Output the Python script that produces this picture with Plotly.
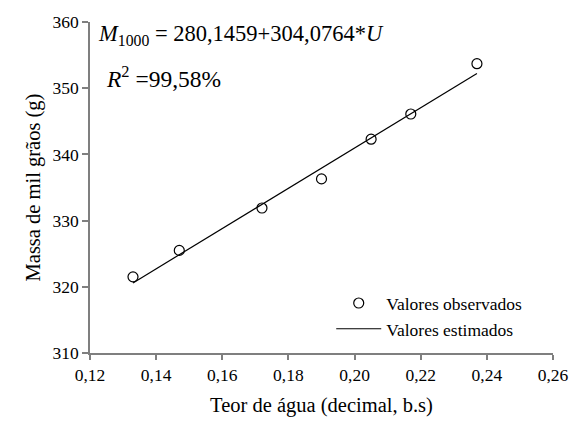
import plotly.graph_objects as go

obs_x = [0.133, 0.147, 0.172, 0.190, 0.205, 0.217, 0.237]
obs_y = [321.5, 325.5, 331.9, 336.3, 342.3, 346.1, 353.7]

# Estimated line (M1000 = 280.1459 + 304.0764*U) endpoints
est_x = [0.133, 0.237]
est_y = [320.59, 352.21]

x_ticks = [0.12, 0.14, 0.16, 0.18, 0.20, 0.22, 0.24, 0.26]
y_ticks = [310, 320, 330, 340, 350, 360]

FONT = "Liberation Serif"
AXIS_GRAY = "#7f7f7f"

fig = go.Figure()
fig.add_trace(go.Scatter(
    x=obs_x, y=obs_y, mode="markers", name="Valores observados",
    marker=dict(symbol="circle-open", size=10, color="black", line=dict(width=1.2, color="black")),
))
fig.add_trace(go.Scatter(
    x=est_x, y=est_y, mode="lines", name="Valores estimados",
    line=dict(color="black", width=1.2),
))

fig.update_layout(
    width=581, height=426,
    margin=dict(l=90, r=22, t=17, b=73),
    paper_bgcolor="white", plot_bgcolor="white",
    separators=", ",
    font=dict(family=FONT, size=17, color="black"),
    showlegend=True,
    legend=dict(
        x=0.521, y=0.205, xanchor="left", yanchor="top",
        bgcolor="rgba(0,0,0,0)", font=dict(family=FONT, size=17.5, color="black"),
        itemwidth=45, tracegroupgap=0,
    ),
    annotations=[
        dict(
            text="<i>M</i><sub>1000</sub> = 280,1459+304,0764*<i>U</i>",
            x=0.012, y=0.96, xref="paper", yref="paper", xanchor="left", yanchor="middle",
            showarrow=False, font=dict(family=FONT, size=22.5, color="black"),
        ),
        dict(
            text="<i>R</i><sup>2</sup> =99,58%",
            x=0.03, y=0.835, xref="paper", yref="paper", xanchor="left", yanchor="middle",
            showarrow=False, font=dict(family=FONT, size=23.5, color="black"),
        ),
    ],
)

fig.update_xaxes(
    range=[0.12, 0.26], tickvals=x_ticks, tickformat=".2f",
    showgrid=False, zeroline=False, showline=True, linecolor=AXIS_GRAY, linewidth=1.5,
    ticks="outside", ticklen=5, tickwidth=1.5, tickcolor=AXIS_GRAY,
    tickfont=dict(family=FONT, size=17.5, color="black"),
    title=dict(text="Teor de água (decimal, b.s)", font=dict(family=FONT, size=20.5, color="black"), standoff=14),
)
fig.update_yaxes(
    range=[310, 360], tickvals=y_ticks, ticksuffix="\u00a0",
    showgrid=False, zeroline=False, showline=True, linecolor=AXIS_GRAY, linewidth=1.5,
    ticks="outside", ticklen=6, tickwidth=1.5, tickcolor=AXIS_GRAY,
    tickfont=dict(family=FONT, size=17.5, color="black"),
    title=dict(text="Massa de mil grãos (g)", font=dict(family=FONT, size=20.5, color="black"), standoff=6),
)

fig.write_html("out.html")
